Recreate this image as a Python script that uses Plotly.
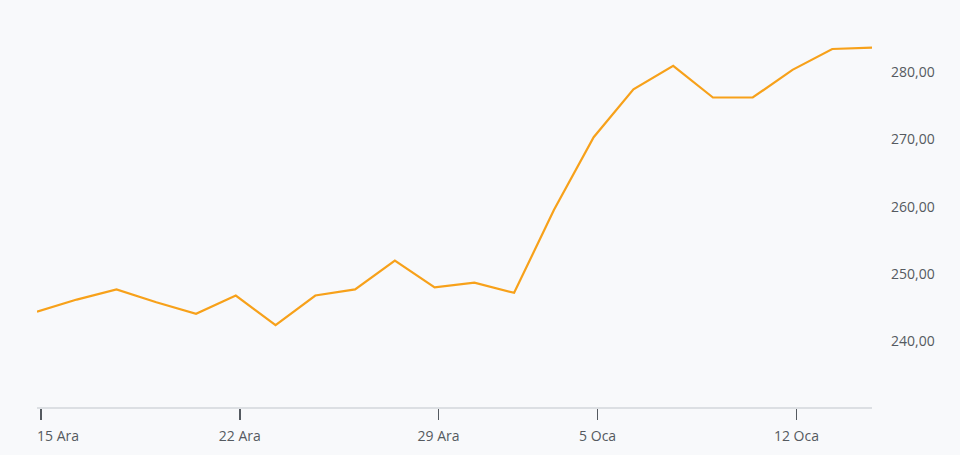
import plotly.graph_objects as go

# Trading days (weekends and 1 Jan holiday skipped)
dates = ["2025-12-15", "2025-12-16", "2025-12-17", "2025-12-18", "2025-12-19",
         "2025-12-22", "2025-12-23", "2025-12-24", "2025-12-25", "2025-12-26",
         "2025-12-29", "2025-12-30", "2025-12-31", "2026-01-02",
         "2026-01-05", "2026-01-06", "2026-01-07", "2026-01-08", "2026-01-09",
         "2026-01-12", "2026-01-13", "2026-01-14"]
prices = [244.4, 246.2, 247.7, 245.8, 244.1,
          246.8, 242.4, 246.8, 247.7, 252.0,
          248.0, 248.7, 247.2, 259.5,
          270.3, 277.4, 280.9, 276.2, 276.2,
          280.3, 283.4, 283.6]
tick_dates = ["2025-12-15", "2025-12-22", "2025-12-29", "2026-01-05", "2026-01-12"]
tick_labels = ["15 Ara", "22 Ara", "29 Ara", "5 Oca", "12 Oca"]
y_ticks = [240, 250, 260, 270, 280]

idx = list(range(len(dates)))
tick_pos = [dates.index(d) + 0.1 for d in tick_dates]

BG = "#f8f9fb"
FONT = "Open Sans"
TXT = "#555a60"

fig = go.Figure()
fig.add_trace(go.Scatter(
    x=idx, y=prices, mode="lines",
    line=dict(color="#f7a11a", width=2.2),
    hoverinfo="skip",
))

fig.update_layout(
    width=960, height=455,
    margin=dict(l=37, r=88, t=10, b=46),
    paper_bgcolor=BG, plot_bgcolor=BG,
    separators=",.",
    showlegend=False,
    font=dict(family=FONT, size=14, color=TXT),
    xaxis=dict(
        range=[0, len(dates) - 1],
        tickmode="array",
        tickvals=tick_pos,
        ticktext=[""] + tick_labels[1:],
        ticks="outside", ticklen=11, tickwidth=1.5, tickcolor=TXT,
        showline=True, linecolor="#dcdfe3", linewidth=1.5,
        showgrid=False, zeroline=False,
        tickfont=dict(family=FONT, size=14, color=TXT),
        ticklabelstandoff=5,
    ),
    yaxis=dict(
        range=[230.25, 289.19],
        side="right",
        tickmode="array",
        tickvals=y_ticks,
        tickformat=".2f",
        showgrid=False, zeroline=False, showline=False,
        ticks="",
        ticklabelstandoff=18,
        tickfont=dict(family=FONT, size=14, color=TXT),
    ),
)

fig.add_annotation(
    x=0, y=0, xref="x", yref="paper",
    text=tick_labels[0], showarrow=False,
    xanchor="left", yanchor="top", yshift=-17, xshift=-2,
    font=dict(family=FONT, size=14, color=TXT),
)

fig.write_html("out.html", config={"displayModeBar": False, "staticPlot": True})

with open("out.html", "r", encoding="utf-8") as f:
    html = f.read()
html = html.replace("<body>", '<body style="margin:0;padding:0;background:%s;overflow:hidden">' % BG, 1)
with open("out.html", "w", encoding="utf-8") as f:
    f.write(html)
